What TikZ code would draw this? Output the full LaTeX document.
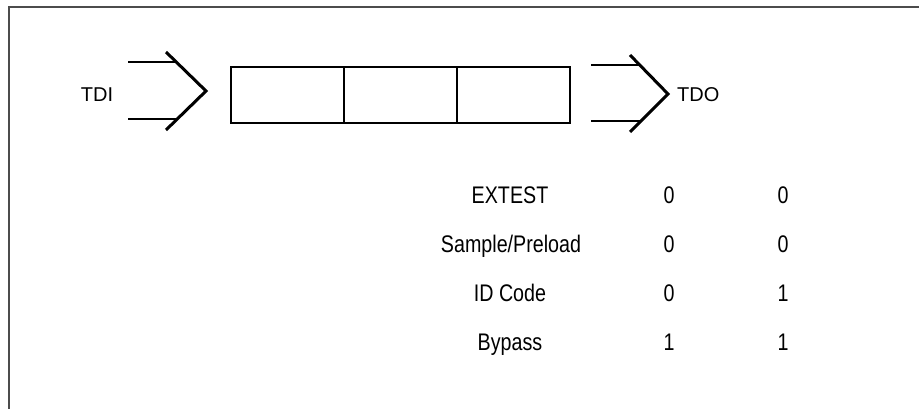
\documentclass[tikz,border=0pt]{standalone}
\usepackage{fontspec}
\setmainfont{Liberation Sans}
\newfontfamily\narrowfont[FakeStretch=0.82]{Liberation Sans}
\begin{document}
\begin{tikzpicture}[x=1pt,y=-1pt,
  cellbox/.style={draw,line width=2.5pt,minimum width=113pt,minimum height=56pt,inner sep=0pt,anchor=center},
  chev/.style={line width=3pt},
  feed/.style={line width=2pt},
  pinlabel/.style={font=\fontsize{20}{24}\selectfont,inner sep=0pt},
  tabtext/.style={font=\narrowfont\fontsize{24}{28}\selectfont,inner sep=0pt,anchor=base}]
\useasboundingbox (0,0) rectangle (919,409);
\draw[line width=2pt,black!70] (9,409) -- (9,7) -- (919,7);
% register cells
\node[cellbox] (c1) at (287.5,95) {};
\node[cellbox] (c2) at (400.5,95) {};
\node[cellbox] (c3) at (513.5,95) {};
% input arrow
\coordinate (la1) at (166,52);
\coordinate (lap) at (206,91);
\coordinate (la2) at (166,130);
\coordinate (lt0) at (128,62);
\coordinate (lt1) at (176.3,62);
\coordinate (lb0) at (128,119);
\coordinate (lb1) at (177.3,119);
\draw[chev] (la1) -- (lap) -- (la2);
\draw[feed] (lt0) -- (lt1);
\draw[feed] (lb0) -- (lb1);
\node[pinlabel] (tdi) at (97,95) {TDI};
% output arrow
\coordinate (ra1) at (630,55);
\coordinate (rap) at (668,94);
\coordinate (ra2) at (630,132);
\coordinate (rt0) at (591,65);
\coordinate (rt1) at (639.7,65);
\coordinate (rb0) at (591,121);
\coordinate (rb1) at (640.7,121);
\draw[chev] (ra1) -- (rap) -- (ra2);
\draw[feed] (rt0) -- (rt1);
\draw[feed] (rb0) -- (rb1);
\node[pinlabel,anchor=west] (tdo) at (677,95) {TDO};
% instruction table
\node[tabtext] (n1) at (510,204) {EXTEST};
\node[tabtext] (a1) at (669,204) {0};
\node[tabtext] (b1) at (783,204) {0};
\node[tabtext] (n2) at (511,252) {Sample/Preload};
\node[tabtext] (a2) at (669,252) {0};
\node[tabtext] (b2) at (783,252) {0};
\node[tabtext] (n3) at (510,301) {ID Code};
\node[tabtext] (a3) at (669,301) {0};
\node[tabtext] (b3) at (783,301) {1};
\node[tabtext] (n4) at (510,350) {Bypass};
\node[tabtext] (a4) at (669,350) {1};
\node[tabtext] (b4) at (783,350) {1};
\end{tikzpicture}
\end{document}
